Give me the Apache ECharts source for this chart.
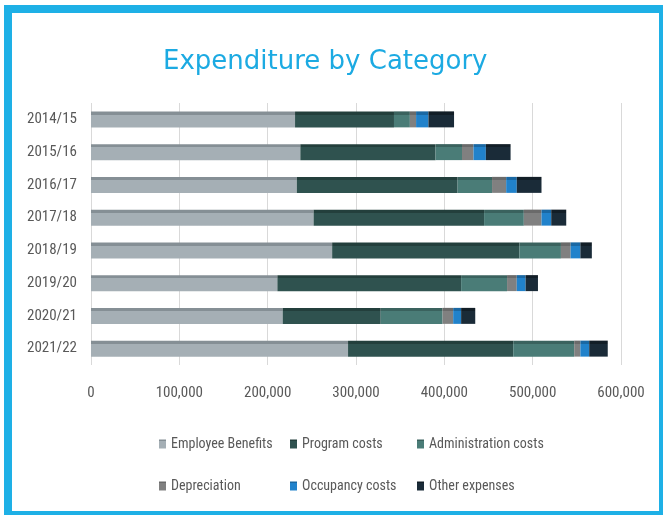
<!DOCTYPE html>
<html lang="en">
<head>
  <meta charset="UTF-8">
  <title>Expenditure by Category</title>
  <script src="https://cdn.jsdelivr.net/npm/echarts@6/dist/echarts.min.js"></script>
  <style>
    * {
      margin: 0;
      padding: 0
    }

    html, body {
      width: 100%;
      height: 100%;
      background: #fff;
    }

    #main {
      width: 663px;
      height: 515px;
    }
  </style>
</head>
<body>
  <div id="main"></div>
</body>
<script type="text/javascript">
  // years, top to bottom
  var years = ['2014/15', '2015/16', '2016/17', '2017/18', '2018/19', '2019/20', '2020/21', '2021/22'];

  var employeeBenefits = [231000, 237000, 233000, 252000, 273000, 211000, 217000, 291000];
  var programCosts = [112000, 153000, 182000, 193000, 212000, 208000, 111000, 187000];
  var adminCosts = [18000, 30000, 39000, 45000, 47000, 52000, 70000, 69000];
  var depreciation = [7000, 13000, 16000, 20000, 11000, 11000, 12000, 7000];
  var occupancyCosts = [14000, 14000, 12000, 11000, 11000, 10000, 9000, 10000];
  var otherExpenses = [29000, 28000, 28000, 17000, 13000, 14000, 16000, 21000];

  var axisTicks = [0, 100000, 200000, 300000, 400000, 500000, 600000];

  var labelFont = "'Liberation Sans Narrow', 'Roboto Condensed', 'Arial Narrow', sans-serif";

  // flat colour with a darker strip on top, a hint of the 3D bar look
  function barColor(base, top) {
    return new echarts.graphic.LinearGradient(0, 0, 0, 1, [
      {offset: 0, color: top},
      {offset: 0.2, color: top},
      {offset: 0.21, color: base},
      {offset: 1, color: base}
    ]);
  }

  function makeSeries(name, data, base, top) {
    return {
      name: name,
      type: 'bar',
      stack: 'total',
      barWidth: 16,
      data: data,
      itemStyle: {color: barColor(base, top)},
      emphasis: {disabled: true}
    };
  }

  var legendText = {color: '#595959', fontSize: 14, fontFamily: labelFont};

  var myChart = echarts.init(document.getElementById('main'));
  myChart.setOption({
    animation: false,
    color: ['#a5afb5', '#2f524f', '#4a7c77', '#808080', '#2182cb', '#1a2b38'],
    title: {
      text: 'Expenditure by Category',
      left: 158,
      top: 44,
      textStyle: {
        color: '#1caae2',
        fontSize: 26,
        fontWeight: 'normal',
        fontFamily: "'DejaVu Sans', sans-serif"
      }
    },
    graphic: [{
      type: 'rect',
      shape: {x: 8, y: 9, width: 655, height: 506},
      style: {fill: 'none', stroke: '#1eb0e6', lineWidth: 8},
      silent: true
    }],
    legend: [
      {
        data: ['Employee Benefits', 'Depreciation'],
        orient: 'vertical', left: 154, top: 432,
        itemWidth: 7, itemHeight: 9, itemGap: 28,
        icon: 'rect', textStyle: legendText
      },
      {
        data: ['Program costs', 'Occupancy costs'],
        orient: 'vertical', left: 285, top: 432,
        itemWidth: 7, itemHeight: 9, itemGap: 28,
        icon: 'rect', textStyle: legendText
      },
      {
        data: ['Administration costs', 'Other expenses'],
        orient: 'vertical', left: 412, top: 432,
        itemWidth: 7, itemHeight: 9, itemGap: 28,
        icon: 'rect', textStyle: legendText
      }
    ],
    grid: {
      left: 91,
      right: 42,
      top: 103,
      bottom: 150
    },
    xAxis: {
      type: 'value',
      min: axisTicks[0],
      max: axisTicks[axisTicks.length - 1],
      interval: axisTicks[1] - axisTicks[0],
      axisLine: {show: false},
      axisTick: {show: false},
      splitLine: {lineStyle: {color: '#d9d9d9', width: 1}},
      axisLabel: {
        margin: 21,
        color: '#595959',
        fontSize: 15,
        fontFamily: labelFont,
        formatter: function (v) {
          return v.toLocaleString('en-US');
        }
      }
    },
    yAxis: {
      type: 'category',
      inverse: true,
      data: years,
      axisLine: {show: false},
      axisTick: {show: false},
      axisLabel: {
        margin: 14,
        color: '#595959',
        fontSize: 15,
        fontFamily: labelFont
      }
    },
    series: [
      makeSeries('Employee Benefits', employeeBenefits, '#a5afb5', '#858f95'),
      makeSeries('Program costs', programCosts, '#2f524f', '#233f3c'),
      makeSeries('Administration costs', adminCosts, '#4a7c77', '#3a625e'),
      makeSeries('Depreciation', depreciation, '#808080', '#6a6a6a'),
      makeSeries('Occupancy costs', occupancyCosts, '#2182cb', '#1a68a3'),
      makeSeries('Other expenses', otherExpenses, '#1a2b38', '#121e27')
    ]
  });
</script>
</html>
